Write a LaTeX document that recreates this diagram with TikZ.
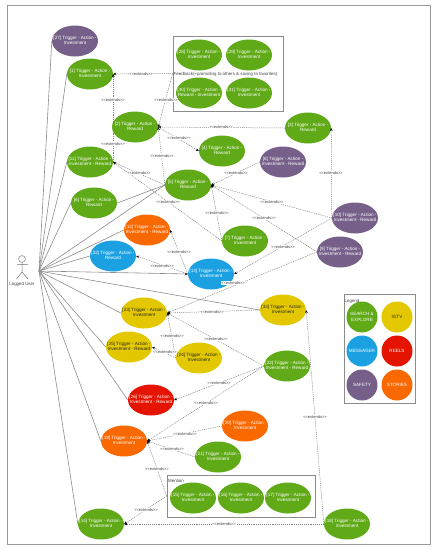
\documentclass[tikz,border=0pt]{standalone}
\usepackage{fontspec}
\setmainfont{Liberation Sans}
\usetikzlibrary{shapes.geometric,arrows.meta}
\definecolor{searchgreen}{HTML}{60A917}
\definecolor{safetypurple}{HTML}{76608A}
\definecolor{storiesorange}{HTML}{FA6800}
\definecolor{messagerblue}{HTML}{1BA1E2}
\definecolor{igtvyellow}{HTML}{E3C800}
\definecolor{reelsred}{HTML}{E51400}
\newcommand{\uctext}[2]{\makebox[0pt]{\begin{tabular}{@{}c@{}}#1\\#2\end{tabular}}}
\newcommand{\extname}{<{}<extends>{}>}
\tikzset{
  uc/.style={ellipse,minimum width=46pt,minimum height=31pt,inner sep=0pt,text=white,
    font=\fontsize{4.6}{5.4}\selectfont},
  ucgreen/.style={uc,fill=searchgreen},
  ucpurple/.style={uc,fill=safetypurple},
  ucorange/.style={uc,fill=storiesorange},
  ucblue/.style={uc,fill=messagerblue},
  ucyellow/.style={uc,fill=igtvyellow,text=black!85},
  ucred/.style={uc,fill=reelsred},
  legendspot/.style={circle,minimum size=31pt,inner sep=0pt,text=white,align=center,
    font=\fontsize{4.6}{5.4}\selectfont},
  groupbox/.style={draw=black!45,line width=0.7pt,inner sep=0pt},
  grouptext/.style={inner sep=0pt,text=black!75,font=\fontsize{4.4}{5.4}\selectfont},
  assoc/.style={draw=black!45,line width=0.6pt},
  extends/.style={->,draw=black!50,line width=0.5pt,dash pattern=on 1pt off 0.9pt},
  extlabel/.style={fill=white,inner sep=0.3pt,text=black!75,font=\fontsize{4}{4.5}\selectfont},
}
\begin{document}
\begin{tikzpicture}[x=1pt,y=-1pt,>={Stealth[black,length=3pt,width=2.6pt]}]
  \useasboundingbox (0,0) rectangle (437,550);
  \draw[draw=black!40,line width=0.9pt] (7,5) rectangle (430,544);

  \node[groupbox,minimum width=110pt,minimum height=75pt] (feedback) at (228,73.5) {};
  \node[groupbox,minimum width=148pt,minimum height=42pt] (mention) at (241,496) {};
  \node[groupbox,minimum width=71pt,minimum height=109pt] (legend) at (379.5,348.5) {};

  \node[ucpurple] (uc27) at (75,41) {\uctext{[27] Trigger - Action -}{Investment}};
  \node[ucgreen] (uc1) at (90,74) {\uctext{[1] Trigger - Action -}{Investment}};
  \node[ucgreen] (uc2) at (135,127) {\uctext{[2] Trigger - Action -}{Reward}};
  \node[ucgreen] (uc3) at (308,128) {\uctext{[3] Trigger - Action -}{Reward}};
  \node[ucgreen] (uc4) at (222,151) {\uctext{[4] Trigger - Action -}{Reward}};
  \node[ucgreen] (uc5) at (188,185) {\uctext{[5] Trigger - Action -}{Reward}};
  \node[ucgreen] (uc6) at (94,203) {\uctext{[6] Trigger - Action -}{Reward}};
  \node[ucgreen] (uc7) at (245,241) {\uctext{[7] Trigger - Action -}{Investment}};
  \node[ucpurple] (uc8) at (283,162) {\uctext{[8] Trigger - Action -}{Investment - Reward}};
  \node[ucpurple] (uc9) at (340,252) {\uctext{[9] Trigger - Action -}{Investment - Reward}};
  \node[ucpurple] (uc10) at (355,218) {\uctext{[10] Trigger - Action -}{Investment - Reward}};
  \node[ucgreen] (uc11) at (90,162) {\uctext{[11] Trigger - Action -}{Investment - Reward}};
  \node[ucorange] (uc12) at (147,230) {\uctext{[12] Trigger - Action -}{Investment - Reward}};
  \node[ucblue] (uc13) at (211,274) {\uctext{[13] Trigger - Action -}{Investment}};
  \node[ucgreen] (uc14) at (101,524) {\uctext{[14] Trigger - Action -}{Investment}};
  \node[ucgreen] (uc15) at (193,498) {\uctext{[15] Trigger - Action -}{Investment}};
  \node[ucgreen] (uc16) at (241,498) {\uctext{[16] Trigger - Action -}{Investment}};
  \node[ucgreen] (uc17) at (288,498) {\uctext{[17] Trigger - Action -}{Investment}};
  \node[ucgreen] (uc18) at (347,524) {\uctext{[18] Trigger - Action -}{Investment}};
  \node[ucorange] (uc19) at (124,441) {\uctext{[19] Trigger - Action -}{Investment}};
  \node[ucorange] (uc20) at (245,426) {\uctext{[20] Trigger - Action -}{Investment}};
  \node[ucgreen] (uc21) at (218,457) {\uctext{[21] Trigger - Action -}{Investment}};
  \node[ucgreen] (uc22) at (287,366) {\uctext{[22] Trigger - Action -}{Investment - Reward}};
  \node[ucyellow] (uc23) at (144,313) {\uctext{[23] Trigger - Action -}{Investment}};
  \node[ucyellow] (uc24) at (199,358) {\uctext{[24] Trigger - Action -}{Investment}};
  \node[ucyellow] (uc25) at (129,347) {\uctext{[25] Trigger - Action -}{Investment - Reward}};
  \node[ucred] (uc26) at (151,400) {\uctext{[26] Trigger - Action -}{Investment - Reward}};
  \node[ucgreen] (uc28) at (199,55) {\uctext{[28] Trigger - Action -}{Investment}};
  \node[ucgreen] (uc29) at (249,55) {\uctext{[29] Trigger - Action -}{Investment}};
  \node[ucgreen] (uc30) at (199,93) {\uctext{[30] Trigger - Action -}{Reward - Investment}};
  \node[ucgreen] (uc31) at (249,93) {\uctext{[31] Trigger - Action -}{Investment}};
  \node[ucblue] (uc32) at (113,256) {\uctext{[32] Trigger - Action -}{Reward}};
  \node[ucyellow] (uc33) at (283,310) {\uctext{[33] Trigger - Action -}{Investment}};

  \node[legendspot,fill=searchgreen] (spotsearch) at (362,317) {SEARCH \&\\EXPLORE};
  \node[legendspot,fill=igtvyellow,text=black!85] (spotigtv) at (397,317) {IGTV};
  \node[legendspot,fill=messagerblue] (spotmessager) at (362,351) {MESSAGER};
  \node[legendspot,fill=reelsred] (spotreels) at (397,351) {REELS};
  \node[legendspot,fill=safetypurple] (spotsafety) at (362,385) {SAFETY};
  \node[legendspot,fill=storiesorange] (spotstories) at (397,385) {STORIES};

  \node[grouptext,anchor=west] (feedbacktext) at (173.5,74) {Feedback(+promoting to others \& saving to favorites)};
  \node[grouptext,anchor=west] (mentiontext) at (168,480.5) {Mention};
  \node[grouptext,anchor=west] (legendtext) at (344.5,301.5) {Legend};

  \draw[draw=black!55,line width=0.5pt] (22,259) circle (3.4);
  \draw[draw=black!55,line width=0.5pt] (22,262.4) -- (22,272) (17,264.5) -- (28,264.5)
    (16.5,279) -- (22,272) -- (28,279);
  \node[grouptext] (usertext) at (22,284) {Logged User};
  \coordinate (user) at (39,271);

  \draw[assoc] (user) -- (uc27.west);
  \draw[assoc] (user) -- (uc1.west);
  \draw[assoc] (user) -- (uc11.west);
  \draw[assoc] (user) -- (uc6.west);
  \draw[assoc] (user) -- (uc5.west);
  \draw[assoc] (uc6.east) -- (uc5.west);
  \draw[assoc] (user) -- (uc12.west);
  \draw[assoc] (user) -- (uc32.west);
  \draw[assoc,->] (user) -- (uc13.west);
  \draw[assoc] (user) -- (uc33.west);
  \draw[assoc] (user) -- (uc23.west);
  \draw[assoc] (user) -- (uc25.west);
  \draw[assoc] (user) -- (uc26.west);
  \draw[assoc] (user) -- (uc19.west);
  \draw[assoc] (user) -- (uc14.west);

  \draw[extends] (feedback.west) -- (uc1.east);
  \draw[extends] (uc11.east) -- (uc1.east);
  \draw[extends] (feedback.west) -- (uc2.east);
  \draw[extends] (uc3.west) -- (uc2.east);
  \draw[extends] (uc2.east) -- (uc4.west);
  \draw[extends] (uc5.west) -- (uc2.east);
  \draw[extends] (uc5.west) -- (uc11.east);
  \draw[extends] (uc7.west) -- (uc11.east);
  \draw[extends] (uc8.west) -- (uc5.east);
  \draw[extends] (uc10.west) -- (uc5.east);
  \draw[extends] (uc9.west) -- (uc5.east);
  \draw[extends] (uc7.west) -- (uc5.east);
  \draw[extends] (uc10.west) -- (uc3.east);
  \draw[extends] (uc10.west) -- (uc13.east);
  \draw[extends] (uc9.west) -- (uc23.east);
  \draw[extends] (uc13.west) -- (uc12.east);
  \draw[extends] (uc13.west) -- (uc32.east);
  \draw[extends] (uc33.west) -- (uc23.east);
  \draw[extends] (uc24.west) -- (uc23.east);
  \draw[extends] (uc22.west) -- (uc23.east);
  \draw[extends] (uc24.west) -- (uc25.east);
  \draw[extends] (uc22.west) -- (uc26.east);
  \draw[extends] (uc22.west) -- (uc19.east);
  \draw[extends] (uc20.west) -- (uc19.east);
  \draw[extends] (uc21.west) -- (uc19.east);
  \draw[extends] (mention.west) -- (uc19.east);
  \draw[extends] (mention.west) -- (uc14.east);
  \draw[extends] (uc18.west) -- (uc14.east);
  \draw[extends] (uc18.west) -- (uc33.east);

  \node[extlabel] (ext1) at (141,74) {\extname};
  \node[extlabel] (ext2) at (113,100) {\extname};
  \node[extlabel] (ext3) at (113,144) {\extname};
  \node[extlabel] (ext4) at (166,100) {\extname};
  \node[extlabel] (ext5) at (221,127) {\extname};
  \node[extlabel] (ext6) at (179,138) {\extname};
  \node[extlabel] (ext7) at (162,156) {\extname};
  \node[extlabel] (ext8) at (139,173) {\extname};
  \node[extlabel] (ext9) at (168,202) {\extname};
  \node[extlabel] (ext10) at (236,173) {\extname};
  \node[extlabel] (ext11) at (272,202) {\extname};
  \node[extlabel] (ext12) at (264,218) {\extname};
  \node[extlabel] (ext13) at (217,213) {\extname};
  \node[extlabel] (ext14) at (331,173) {\extname};
  \node[extlabel] (ext15) at (283,247) {\extname};
  \node[extlabel] (ext16) at (233,283) {\extname};
  \node[extlabel] (ext17) at (179,252) {\extname};
  \node[extlabel] (ext18) at (162,266) {\extname};
  \node[extlabel] (ext19) at (212,312) {\extname};
  \node[extlabel] (ext20) at (172,336) {\extname};
  \node[extlabel] (ext21) at (216,339) {\extname};
  \node[extlabel] (ext22) at (165,352) {\extname};
  \node[extlabel] (ext23) at (219,383) {\extname};
  \node[extlabel] (ext24) at (206,403) {\extname};
  \node[extlabel] (ext25) at (185,434) {\extname};
  \node[extlabel] (ext26) at (172,449) {\extname};
  \node[extlabel] (ext27) at (157,469) {\extname};
  \node[extlabel] (ext28) at (146,510) {\extname};
  \node[extlabel] (ext29) at (224,524) {\extname};
  \node[extlabel] (ext30) at (315,417) {\extname};
\end{tikzpicture}
\end{document}
